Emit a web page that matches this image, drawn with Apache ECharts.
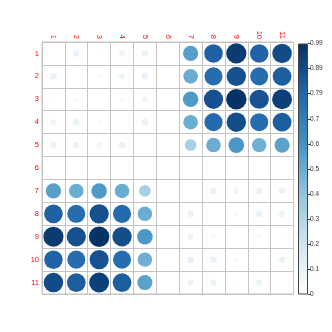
<!DOCTYPE html>
<html><head><meta charset="utf-8">
<script src="https://cdn.jsdelivr.net/npm/echarts@6/dist/echarts.min.js"></script>
<style>html,body{margin:0;padding:0;background:#fff}#c{width:332px;height:332px}</style>
</head><body><div id="c"></div>
<script>
const rowLabels = ['1','2','3','4','5','6','7','8','9','10','11'];
const colLabels = ['1','2','3','4','5','6','7','8','9','10','11'];
const values = [
  [0.00,0.10,0.02,0.08,0.10,0,0.55,0.82,0.96,0.81,0.90],
  [0.10,0.00,0.04,0.09,0.10,0,0.50,0.77,0.88,0.77,0.83],
  [0.02,0.04,0.00,0.04,0.08,0,0.57,0.88,0.99,0.87,0.94],
  [0.08,0.09,0.04,0.00,0.10,0,0.50,0.78,0.89,0.77,0.83],
  [0.10,0.10,0.08,0.10,0.00,0,0.33,0.50,0.58,0.49,0.54],
  [0,0,0,0,0,0,0,0,0,0,0],
  [0.55,0.50,0.57,0.50,0.33,0,0.00,0.10,0.08,0.10,0.09],
  [0.82,0.77,0.88,0.78,0.50,0,0.10,0.00,0.05,0.10,0.09],
  [0.96,0.88,0.99,0.89,0.58,0,0.08,0.05,0.00,0.05,0.02],
  [0.81,0.77,0.87,0.77,0.49,0,0.10,0.10,0.05,0.00,0.09],
  [0.90,0.83,0.94,0.83,0.54,0,0.09,0.09,0.02,0.09,0.00]
];
const colorbarTickLabels = ['0','0.1','0.2','0.3','0.4','0.5','0.6','0.7','0.79','0.89','0.99'];
const ramp = ['#FFFFFF','#D1E5F0','#92C5DE','#4393C3','#2166AC','#053061'];

const data = [];
values.forEach((row, r) => row.forEach((v, c) => data.push([c, r, v])));
const cell = 251.5 / 11;

const chart = echarts.init(document.getElementById('c'), null, {renderer: 'canvas'});
chart.setOption({
  animation: false,
  backgroundColor: '#fff',
  grid: [
    {left: 42, top: 42, width: 251.5, height: 252, show: true, borderColor: '#c4c4c4', borderWidth: 1, backgroundColor: '#fff'},
    {left: 298, top: 43.5, width: 10, height: 251}
  ],
  xAxis: [
    {type: 'category', gridIndex: 0, data: colLabels, position: 'top', boundaryGap: true,
     axisLine: {show: false}, axisTick: {show: false},
     axisLabel: {interval: 0, rotate: 90, color: '#ff0000', fontSize: 7.5, margin: 3, fontFamily: 'Liberation Sans'},
     splitLine: {show: true, interval: 0, lineStyle: {color: '#c4c4c4', width: 1}}},
    {type: 'category', gridIndex: 1, data: ['c'], show: false}
  ],
  yAxis: [
    {type: 'category', gridIndex: 0, data: rowLabels, inverse: true, boundaryGap: true,
     axisLine: {show: false}, axisTick: {show: false},
     axisLabel: {interval: 0, color: '#ff0000', fontSize: 7.5, margin: 3, fontFamily: 'Liberation Sans'},
     splitLine: {show: true, interval: 0, lineStyle: {color: '#c4c4c4', width: 1}}},
    {type: 'value', gridIndex: 1, min: 0, max: 1, interval: 0.1, position: 'right',
     axisLine: {show: false}, splitLine: {show: false},
     axisTick: {show: true, length: 3, lineStyle: {color: '#444'}},
     axisLabel: {color: '#333', fontSize: 6.5, margin: 2, fontFamily: 'Liberation Sans',
       formatter: (v) => colorbarTickLabels[Math.round(v * 10)]}}
  ],
  visualMap: {show: false, type: 'continuous', seriesIndex: 0, dimension: 2, min: 0, max: 1, inRange: {color: ramp}},
  series: [
    {type: 'scatter', xAxisIndex: 0, yAxisIndex: 0, data: data,
     symbolSize: (v) => 0.9 * cell * Math.sqrt(Math.abs(v[2])),
     itemStyle: {opacity: 1}},
    {type: 'bar', xAxisIndex: 1, yAxisIndex: 1, data: [1], barWidth: '100%',
     itemStyle: {borderColor: '#444', borderWidth: 1,
       color: new echarts.graphic.LinearGradient(0, 1, 0, 0,
         ramp.map((c, i) => ({offset: i / (ramp.length - 1), color: c})))}}
  ]
});
</script></body></html>
